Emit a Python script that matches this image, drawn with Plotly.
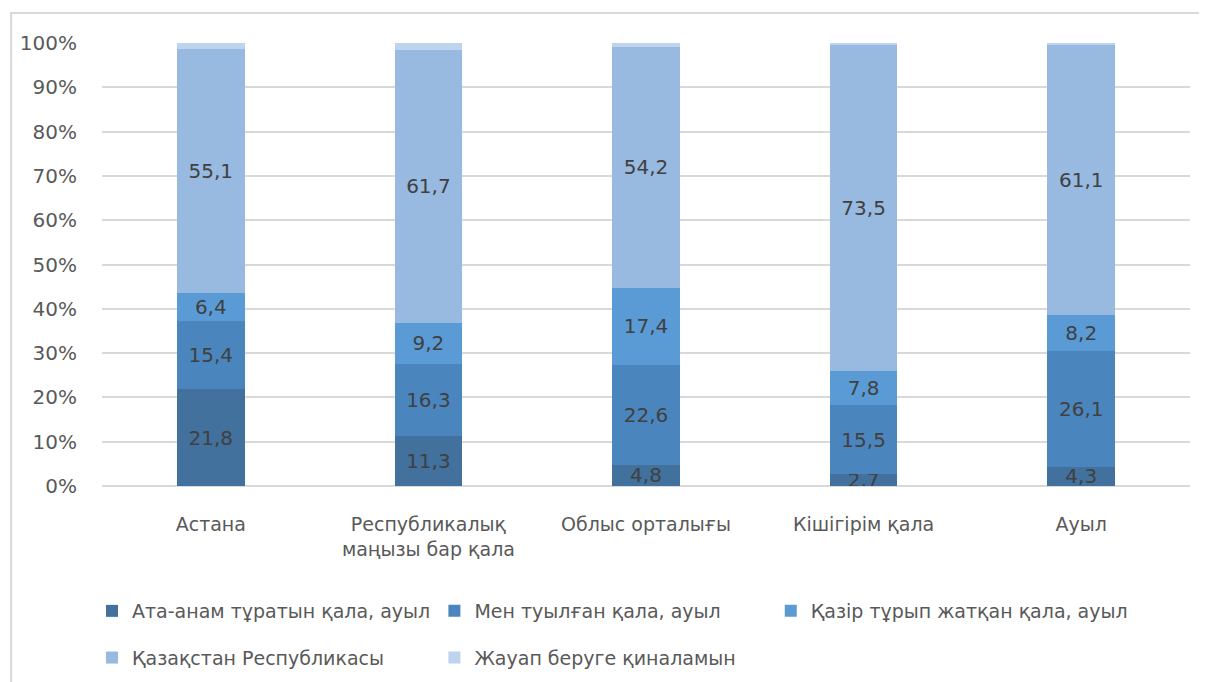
import plotly.graph_objects as go

categories = ["Астана", "Республикалық<br>маңызы бар қала", "Облыс орталығы", "Кішігірім қала", "Ауыл"]
series_names = [
    "Ата-анам тұратын қала, ауыл",
    "Мен туылған қала, ауыл",
    "Қазір тұрып жатқан қала, ауыл",
    "Қазақстан Республикасы",
    "Жауап беруге қиналамын",
]
parents_city = [21.8, 11.3, 4.8, 2.7, 4.3]
birth_city = [15.4, 16.3, 22.6, 15.5, 26.1]
current_city = [6.4, 9.2, 17.4, 7.8, 8.2]
kazakhstan = [55.1, 61.7, 54.2, 73.5, 61.1]
hard_to_answer = [1.3, 1.5, 1.0, 0.5, 0.3]

series_values = [parents_city, birth_city, current_city, kazakhstan, hard_to_answer]
colors = ["#41719c", "#4a86bd", "#5b9bd5", "#98b9e0", "#bdd3ee"]
show_labels = [True, True, True, True, False]
legend_ids = ["legend", "legend2", "legend3", "legend", "legend2"]

FONT = "DejaVu Sans, sans-serif"

# page is offset by 8px (browser body margin); compensate
OFF = 8
W, H = 1207, 682
PL, PR, PT, PB = 100 - OFF, 1190 - OFF, 43 - OFF, 486 - OFF
PW, PH = PR - PL, PB - PT


def px_x(fx):
    return (fx - PL) / PW


def px_y(fy):
    return (PB - fy) / PH


fig = go.Figure()
for i, (name, vals) in enumerate(zip(series_names, series_values)):
    txt = [f"{v:.1f}".replace(".", ",") for v in vals] if show_labels[i] else None
    fig.add_trace(go.Bar(
        x=categories, y=vals, name=name,
        marker=dict(color=colors[i], line=dict(width=0)),
        text=txt,
        textposition="inside" if show_labels[i] else "none",
        insidetextanchor="middle",
        textfont=dict(color="#404040", size=20, family=FONT),
        legend=legend_ids[i],
        legendgroup=f"g{i}",
        hoverinfo="skip",
    ))

leg_common = dict(
    orientation="v", yanchor="top", xanchor="left",
    font=dict(size=19, color="#595959", family=FONT),
    bgcolor="rgba(0,0,0,0)", tracegroupgap=19, itemwidth=30,
    traceorder="grouped",
)
leg_top = px_y(584)

fig.update_layout(
    barmode="stack",
    barnorm="percent",
    bargap=0.69,
    width=W, height=H,
    margin=dict(l=PL, r=W - PR, t=PT, b=H - PB),
    paper_bgcolor="white",
    plot_bgcolor="white",
    font=dict(family=FONT, color="#595959", size=18),
    uniformtext=dict(minsize=20, mode="show"),
    legend=dict(x=px_x(82), y=leg_top, **leg_common),
    legend2=dict(x=px_x(425), y=leg_top, **leg_common),
    legend3=dict(x=px_x(762), y=leg_top, **leg_common),
    showlegend=True,
    xaxis=dict(
        showline=False, ticks="outside", ticklen=21, tickcolor="rgba(0,0,0,0)",
        tickfont=dict(size=19, color="#595959", family=FONT),
    ),
    yaxis=dict(
        range=[0, 100], dtick=10, ticksuffix="%",
        showgrid=True, gridcolor="#d9d9d9", gridwidth=1.5,
        zeroline=True, zerolinecolor="#d9d9d9", zerolinewidth=1.5,
        showline=False, ticks="outside", ticklen=20, tickcolor="rgba(0,0,0,0)",
        tickfont=dict(size=20, color="#595959", family=FONT),
    ),
    shapes=[
        dict(type="line", xref="paper", yref="paper",
             x0=px_x(1), x1=px_x(1),
             y0=px_y(H), y1=px_y(5),
             line=dict(color="#d9d9d9", width=2)),
        dict(type="line", xref="paper", yref="paper",
             x0=px_x(0), x1=px_x(W),
             y0=px_y(5), y1=px_y(5),
             line=dict(color="#d9d9d9", width=2)),
    ],
)

fig.write_html("out.html")
